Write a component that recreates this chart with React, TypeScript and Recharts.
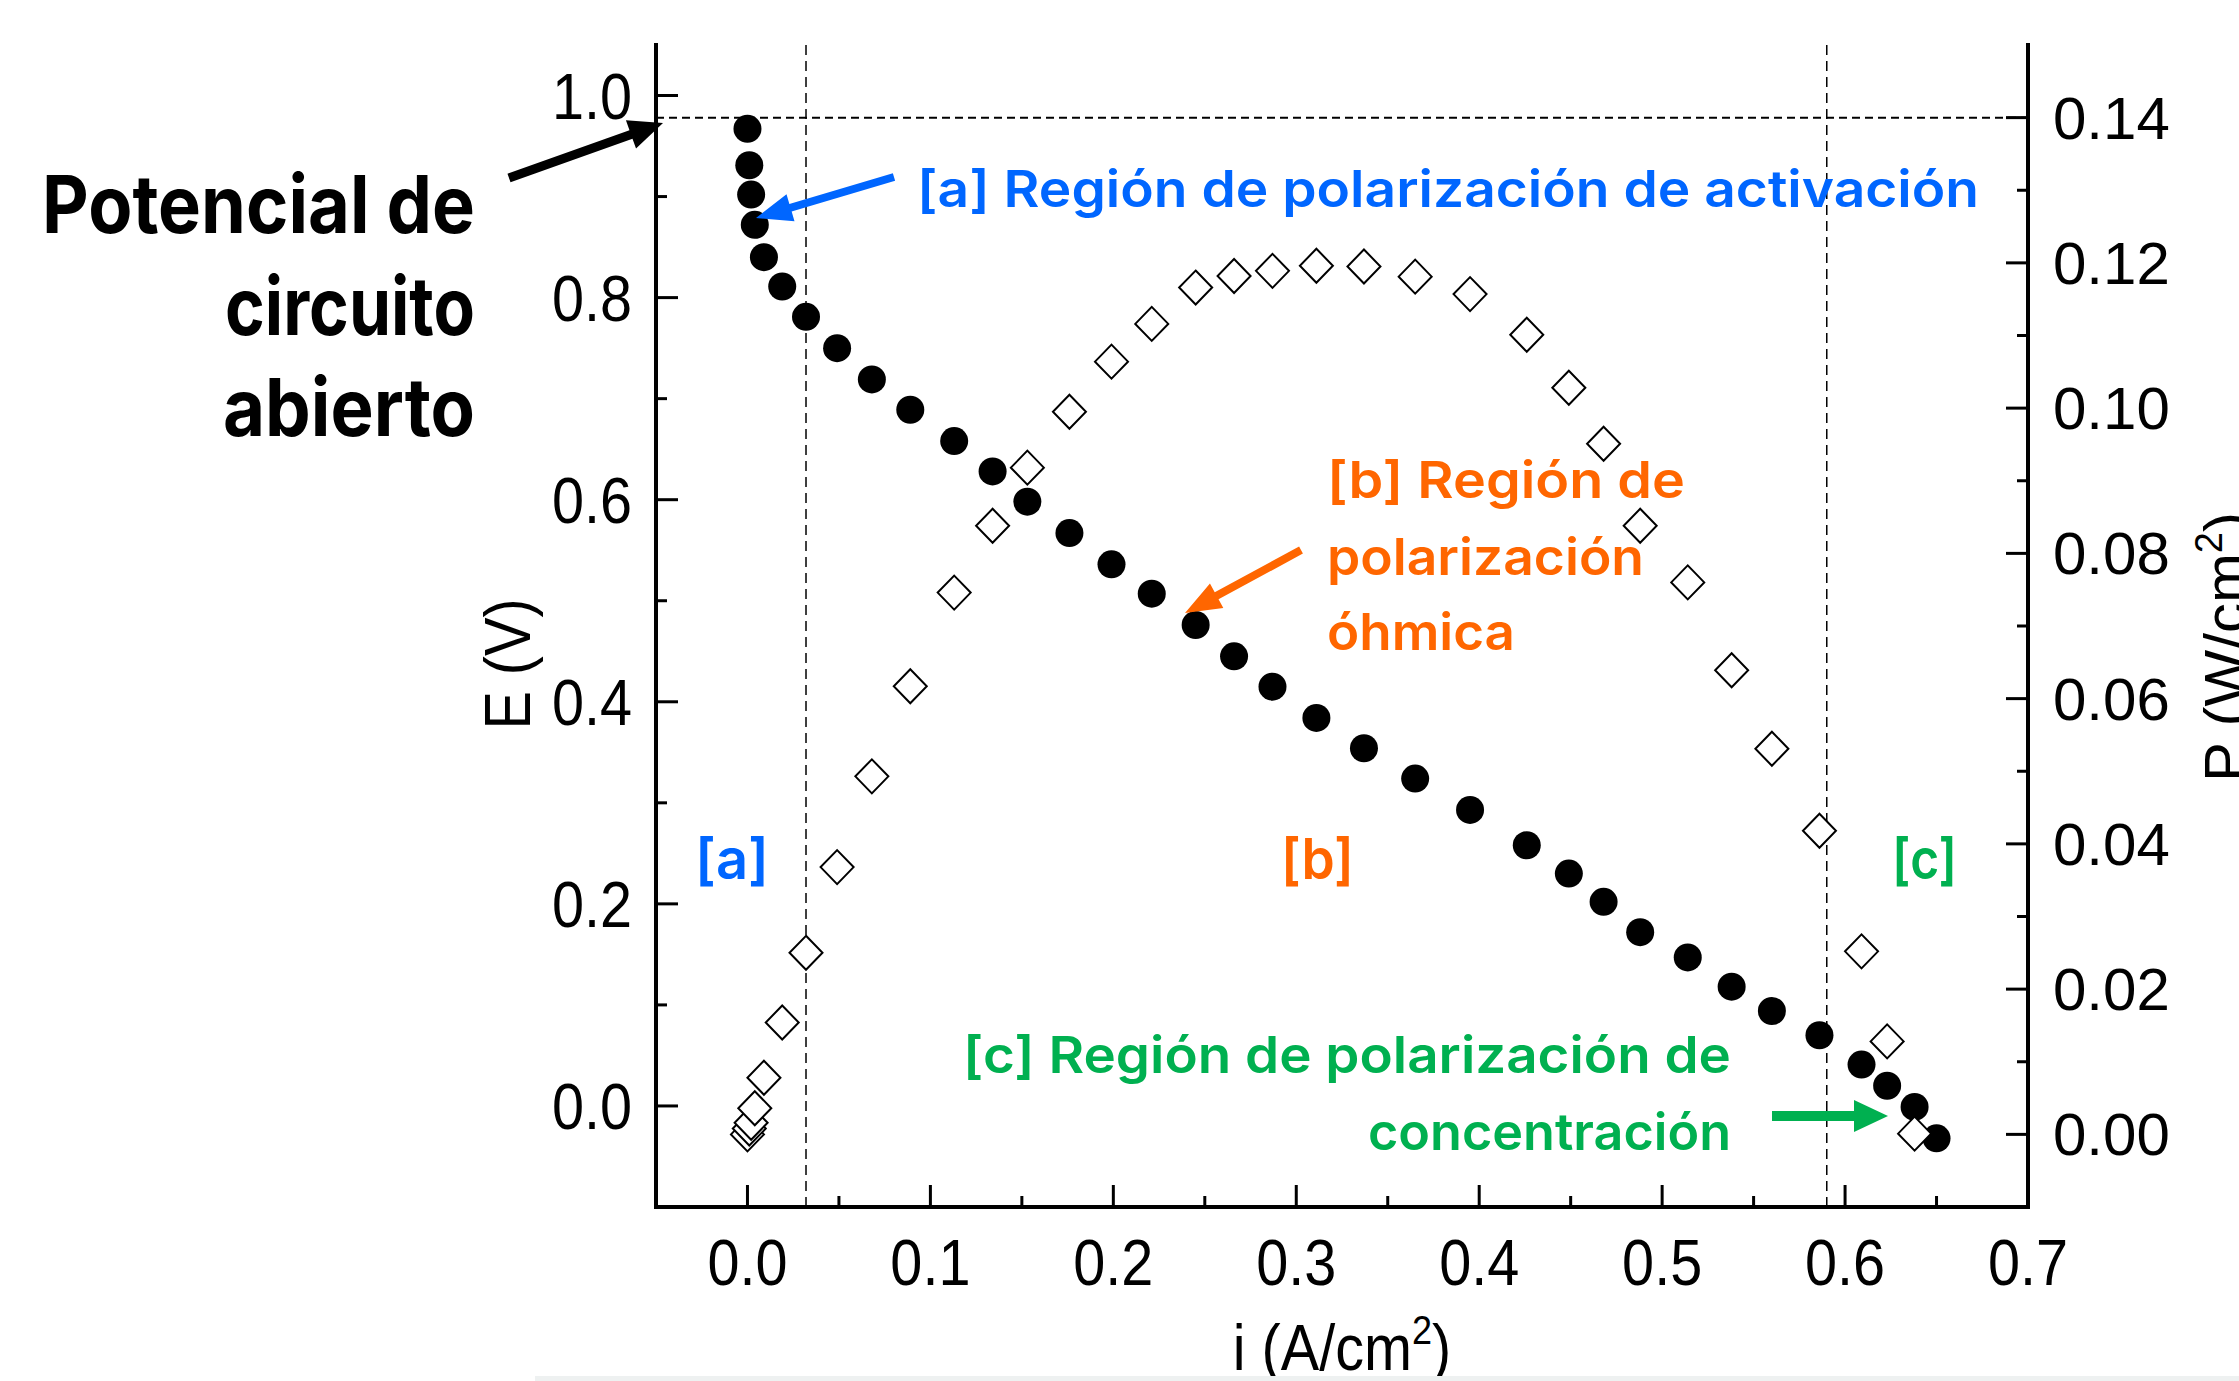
import React from "react";
import { ScatterChart, Scatter, XAxis, YAxis, ReferenceLine } from "recharts";

// current density i (A/cm2), shared by both series
const currentDensity = [
  0.0, 0.001, 0.002, 0.004, 0.009, 0.019, 0.032, 0.049, 0.068, 0.089, 0.113,
  0.134, 0.153, 0.176, 0.199, 0.221, 0.245, 0.266, 0.287, 0.311, 0.337, 0.365,
  0.395, 0.426, 0.449, 0.468, 0.488, 0.514, 0.538, 0.56, 0.586, 0.609, 0.623,
  0.638, 0.65,
];

// cell potential E (V)
const potential = [
  0.967, 0.931, 0.902, 0.872, 0.84, 0.811, 0.781, 0.75, 0.719, 0.689, 0.658,
  0.628, 0.598, 0.567, 0.536, 0.507, 0.476, 0.445, 0.415, 0.384, 0.354, 0.324,
  0.293, 0.258, 0.23, 0.202, 0.172, 0.147, 0.118, 0.094, 0.07, 0.041, 0.02,
  -0.001, -0.032,
];

// power density P (W/cm2), last point falls below the frame
const powerDensity = [
  0.0, 0.0008, 0.0016, 0.0036, 0.0078, 0.0154, 0.025, 0.0368, 0.0493, 0.0617,
  0.0746, 0.0838, 0.0918, 0.0995, 0.1064, 0.1116, 0.1166, 0.1182, 0.1189,
  0.1196, 0.1195, 0.1181, 0.1157, 0.1101, 0.1028, 0.0951, 0.0838, 0.076,
  0.0639, 0.0531, 0.0418, 0.0252, 0.0128, 0.0001,
];

const xMajorTicks = [0, 0.1, 0.2, 0.3, 0.4, 0.5, 0.6, 0.7];
const xMinorTicks = [0.05, 0.15, 0.25, 0.35, 0.45, 0.55, 0.65];
const eMajorTicks = [0, 0.2, 0.4, 0.6, 0.8, 1.0];
const eMinorTicks = [0.1, 0.3, 0.5, 0.7, 0.9];
const pMajorTicks = [0, 0.02, 0.04, 0.06, 0.08, 0.1, 0.12, 0.14];
const pMinorTicks = [0.01, 0.03, 0.05, 0.07, 0.09, 0.11, 0.13];

const openCircuitLevel = 0.978;
const regionLimits = [0.032, 0.59];

const eData = currentDensity.map((i, k) => ({ i, E: potential[k] }));
const pData = powerDensity.map((P, k) => ({ i: currentDensity[k], P }));

const AXIS_FONT = "'Liberation Sans', Arial, Helvetica, sans-serif";
const NOTE_FONT = "Inter, 'Open Sans', sans-serif";
const BLUE = "#0066ff";
const ORANGE = "#ff6600";
const GREEN = "#00b050";

const isMajor = (list: number[], v: number) =>
  list.some((m) => Math.abs(m - v) < 1e-9);

function BottomTick({ x, y, payload }: any) {
  const major = isMajor(xMajorTicks, payload.value);
  return (
    <g>
      <line x1={x} y1={y} x2={x} y2={y - (major ? 22 : 11)} stroke="#000" strokeWidth={3} />
      {major && (
        <text
          transform={`translate(${x},${y + 78}) scale(0.9,1)`}
          textAnchor="middle"
          fontSize={64}
          fontFamily={AXIS_FONT}
          fill="#000"
        >
          {payload.value.toFixed(1)}
        </text>
      )}
    </g>
  );
}

function TopTick({ x, y, payload }: any) {
  const major = isMajor(xMajorTicks, payload.value);
  return <line x1={x} y1={y} x2={x} y2={y + (major ? 22 : 11)} stroke="#000" strokeWidth={3} />;
}

function LeftTick({ x, y, payload }: any) {
  const major = isMajor(eMajorTicks, payload.value);
  return (
    <g>
      <line x1={x} y1={y} x2={x + (major ? 22 : 11)} y2={y} stroke="#000" strokeWidth={3} />
      {major && (
        <text
          transform={`translate(${x - 24},${y + 23}) scale(0.9,1)`}
          textAnchor="end"
          fontSize={64}
          fontFamily={AXIS_FONT}
          fill="#000"
        >
          {payload.value.toFixed(1)}
        </text>
      )}
    </g>
  );
}

function RightTick({ x, y, payload }: any) {
  const major = isMajor(pMajorTicks, payload.value);
  return (
    <g>
      <line x1={x} y1={y} x2={x - (major ? 22 : 11)} y2={y} stroke="#000" strokeWidth={3} />
      {major && (
        <text x={x + 25} y={y + 21} fontSize={60} fontFamily={AXIS_FONT} fill="#000">
          {payload.value.toFixed(2)}
        </text>
      )}
    </g>
  );
}

const FilledDot = ({ cx, cy }: any) => <circle cx={cx} cy={cy} r={14} fill="#000" />;

const OpenDiamond = ({ cx, cy }: any) => (
  <path
    d={`M${cx},${cy - 17}L${cx + 16.5},${cy}L${cx},${cy + 17}L${cx - 16.5},${cy}Z`}
    fill="#fff"
    stroke="#000"
    strokeWidth={2}
  />
);

function Arrow({ x1, y1, x2, y2, shaft, headLen, headWidth, color }: any) {
  const len = Math.hypot(x2 - x1, y2 - y1);
  const ux = (x2 - x1) / len;
  const uy = (y2 - y1) / len;
  const nx = -uy;
  const ny = ux;
  const bx = x2 - ux * headLen;
  const by = y2 - uy * headLen;
  const s = shaft / 2;
  const h = headWidth / 2;
  const pts = [
    [x1 + nx * s, y1 + ny * s],
    [bx + nx * s, by + ny * s],
    [bx + nx * h, by + ny * h],
    [x2, y2],
    [bx - nx * h, by - ny * h],
    [bx - nx * s, by - ny * s],
    [x1 - nx * s, y1 - ny * s],
  ];
  return <polygon points={pts.map((p) => p.join(",")).join(" ")} fill={color} />;
}

function Note({ x, y, w, size, weight, color, children }: any) {
  return (
    <text
      x={x}
      y={y}
      textLength={w}
      lengthAdjust="spacingAndGlyphs"
      fontSize={size}
      fontWeight={weight}
      fontFamily={NOTE_FONT}
      fill={color}
    >
      {children}
    </text>
  );
}

function Annotations() {
  return (
    <svg
      width={2239}
      height={1381}
      style={{ position: "absolute", left: 0, top: 0, pointerEvents: "none" }}
    >
      {/* axis titles */}
      <text
        transform="translate(530,664) rotate(-90) scale(0.9,1)"
        textAnchor="middle"
        fontSize={64}
        fontFamily={AXIS_FONT}
      >
        E (V)
      </text>
      <text
        transform="translate(1342,1370) scale(0.9,1)"
        textAnchor="middle"
        fontSize={64}
        fontFamily={AXIS_FONT}
      >
        i (A/cm
        <tspan fontSize={40} dy={-26}>2</tspan>
        <tspan dy={26}>)</tspan>
      </text>
      <text
        transform="translate(2246,647) rotate(-90)"
        textAnchor="middle"
        fontSize={60}
        fontFamily={AXIS_FONT}
      >
        P (W/cm
        <tspan fontSize={38} dy={-24}>2</tspan>
        <tspan dy={24}>)</tspan>
      </text>

      {/* open circuit potential */}
      <Note x={42} y={233} w={433} size={80} weight={700} color="#000">Potencial de</Note>
      <Note x={225} y={335} w={250} size={80} weight={700} color="#000">circuito</Note>
      <Note x={223} y={436} w={252} size={80} weight={700} color="#000">abierto</Note>
      <Arrow x1={509} y1={178} x2={663} y2={123} shaft={9} headLen={34} headWidth={30} color="#000" />

      {/* [a] activation */}
      <Note x={917} y={207} w={1062} size={51} weight={600} color={BLUE}>
        [a] Región de polarización de activación
      </Note>
      <Arrow x1={894} y1={177} x2={756} y2={218} shaft={8} headLen={36} headWidth={28} color={BLUE} />

      {/* [b] ohmic */}
      <Note x={1327} y={498} w={358} size={51} weight={600} color={ORANGE}>[b] Región de</Note>
      <Note x={1327} y={575} w={317} size={51} weight={600} color={ORANGE}>polarización</Note>
      <Note x={1327} y={650} w={188} size={51} weight={600} color={ORANGE}>óhmica</Note>
      <Arrow x1={1301} y1={550} x2={1185} y2={613} shaft={8} headLen={36} headWidth={28} color={ORANGE} />

      {/* [c] concentration */}
      <Note x={963} y={1073} w={768} size={51} weight={600} color={GREEN}>
        [c] Región de polarización de
      </Note>
      <Note x={1368} y={1150} w={363} size={51} weight={600} color={GREEN}>concentración</Note>
      <Arrow x1={1772} y1={1116} x2={1888} y2={1116} shaft={10} headLen={34} headWidth={32} color={GREEN} />

      {/* region tags */}
      <Note x={695} y={879} w={74} size={56} weight={600} color={BLUE}>[a]</Note>
      <Note x={1281} y={879} w={73} size={56} weight={600} color={ORANGE}>[b]</Note>
      <Note x={1892} y={879} w={65} size={56} weight={600} color={GREEN}>[c]</Note>

      <rect x={535} y={1376} width={1704} height={5} fill="#eef1f1" />
    </svg>
  );
}

export default function App() {
  const axisLine = { stroke: "#000", strokeWidth: 4, strokeLinecap: "square" as const };
  return (
    <div style={{ position: "relative", width: 2239, height: 1381, background: "#fff" }}>
      <style>{`body{margin:0;background:#fff}`}</style>
      <ScatterChart width={2239} height={1381} margin={{ top: 45, right: 0, bottom: 0, left: 0 }}>
        <XAxis
          xAxisId="bottom"
          type="number"
          dataKey="i"
          domain={[-0.05, 0.7]}
          allowDataOverflow
          ticks={[...xMajorTicks, ...xMinorTicks].sort((a, b) => a - b)}
          interval={0}
          height={174}
          tickSize={0}
          tickMargin={0}
          tickLine={false}
          axisLine={axisLine}
          tick={<BottomTick />}
        />
        <XAxis
          xAxisId="top"
          orientation="top"
          type="number"
          dataKey="i"
          domain={[-0.05, 0.7]}
          allowDataOverflow
          ticks={[...xMajorTicks, ...xMinorTicks].sort((a, b) => a - b)}
          interval={0}
          height={0}
          tickSize={0}
          tickMargin={0}
          tickLine={false}
          axisLine={axisLine}
          tick={<TopTick />}
        />
        <YAxis
          yAxisId="E"
          type="number"
          dataKey="E"
          domain={[-0.1, 1.05]}
          allowDataOverflow
          ticks={[...eMajorTicks, ...eMinorTicks].sort((a, b) => a - b)}
          interval={0}
          width={656}
          tickSize={0}
          tickMargin={0}
          tickLine={false}
          axisLine={axisLine}
          tick={<LeftTick />}
        />
        <YAxis
          yAxisId="P"
          orientation="right"
          type="number"
          dataKey="P"
          domain={[-0.01, 0.15]}
          allowDataOverflow
          ticks={[...pMajorTicks, ...pMinorTicks].sort((a, b) => a - b)}
          interval={0}
          width={211}
          tickSize={0}
          tickMargin={0}
          tickLine={false}
          axisLine={axisLine}
          tick={<RightTick />}
        />
        <ReferenceLine
          xAxisId="bottom"
          yAxisId="E"
          y={openCircuitLevel}
          stroke="#000"
          strokeWidth={2}
          strokeDasharray="8 5"
        />
        {regionLimits.map((v) => (
          <ReferenceLine
            key={v}
            xAxisId="bottom"
            yAxisId="E"
            x={v}
            stroke="#000"
            strokeWidth={1.5}
            strokeDasharray="10 6"
          />
        ))}
        <Scatter
          xAxisId="bottom"
          yAxisId="E"
          data={eData}
          shape={<FilledDot />}
          isAnimationActive={false}
        />
        <Scatter
          xAxisId="bottom"
          yAxisId="P"
          data={pData}
          shape={<OpenDiamond />}
          isAnimationActive={false}
        />
      </ScatterChart>
      <Annotations />
    </div>
  );
}
